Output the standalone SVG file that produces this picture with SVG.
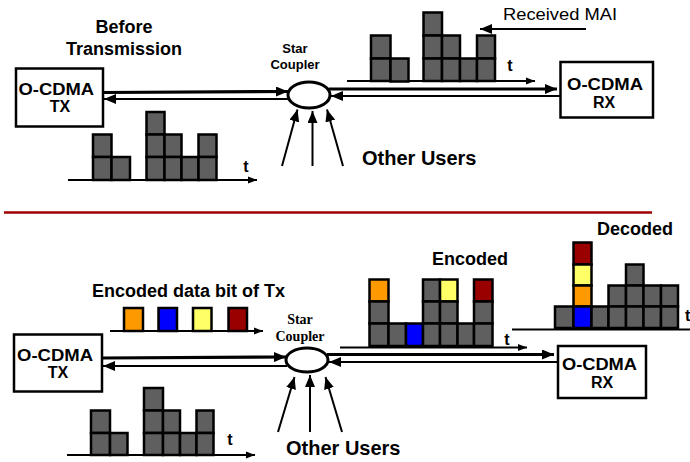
<svg xmlns="http://www.w3.org/2000/svg" width="690" height="462" viewBox="0 0 690 462">
<style>
text{font-family:"Liberation Sans",Arial,sans-serif;fill:#000}
.b{font-weight:bold}
.lbl{font-size:18px;font-weight:bold}
.bx{font-size:16px;font-weight:bold}
.box{fill:#fff;stroke:#000;stroke-width:2.5}
.cell{stroke:#000;stroke-width:2.5}
.g{fill:#5f5f5f}
.or{fill:#ff9900}
.bl{fill:#0000ff}
.ye{fill:#ffff66}
.rd{fill:#990000}
.ax{stroke:#000;stroke-width:2.2;fill:none}
.thick{stroke:#000;stroke-width:3.2;fill:none}
.thin{stroke:#000;stroke-width:2;fill:none}
.cp{fill:#fff;stroke:#000;stroke-width:3}
.serif{font-family:"Liberation Serif","Times New Roman",serif;font-weight:bold;font-size:14px}
</style>
<defs>
<marker id="ah" markerUnits="userSpaceOnUse" markerWidth="13" markerHeight="10" refX="12" refY="5" orient="auto"><path d="M0,0 L12,5 L0,10 Z" fill="#000"/></marker>
<marker id="as" markerUnits="userSpaceOnUse" markerWidth="10" markerHeight="8" refX="9" refY="4" orient="auto"><path d="M0,0.5 L9,4 L0,7.5 Z" fill="#000"/></marker>
</defs>

<!-- top section -->
<text class="lbl" x="124" y="33" text-anchor="middle">Before</text>
<text class="lbl" x="124" y="55" text-anchor="middle">Transmission</text>

<g id="tx-top">
<rect class="box" x="16" y="68.5" width="87" height="58"/>
<text class="bx" x="18.5" y="95" textLength="75.5" lengthAdjust="spacingAndGlyphs">O-CDMA</text>
<text class="bx" x="60" y="112" text-anchor="middle">TX</text>
</g>

<g id="coupler-top">
<ellipse class="cp" cx="309" cy="95" rx="21" ry="13"/>
<text class="b" x="295" y="52.5" font-size="13" text-anchor="middle">Star</text>
<text class="b" x="295" y="68.5" font-size="13" text-anchor="middle">Coupler</text>
</g>

<g id="rx-top">
<rect class="box" x="560.5" y="62" width="92.5" height="55.5"/>
<text class="bx" x="567" y="90" textLength="76" lengthAdjust="spacingAndGlyphs">O-CDMA</text>
<text class="bx" x="604" y="108" text-anchor="middle">RX</text>
</g>

<g id="chart-top-left">
<line class="ax" x1="68" y1="180" x2="257" y2="180" marker-end="url(#as)"/>
<rect class="cell g" x="93" y="134.5" width="18.5" height="22.5"/>
<rect class="cell g" x="93" y="157" width="18.5" height="23"/>
<rect class="cell g" x="111.5" y="157" width="18.5" height="23"/>
<rect class="cell g" x="146.5" y="112" width="18" height="22.5"/>
<rect class="cell g" x="146.5" y="134.5" width="18" height="22.5"/>
<rect class="cell g" x="146.5" y="157" width="18" height="23"/>
<rect class="cell g" x="164.5" y="134.5" width="17" height="22.5"/>
<rect class="cell g" x="164.5" y="157" width="17" height="23"/>
<rect class="cell g" x="181.5" y="157" width="17" height="23"/>
<rect class="cell g" x="198.5" y="134.5" width="18" height="22.5"/>
<rect class="cell g" x="198.5" y="157" width="18" height="23"/>
<text class="b" x="246" y="172" font-size="16" text-anchor="middle">t</text>
</g>

<g id="chart-top-right">
<line class="ax" x1="347" y1="81" x2="535" y2="81" marker-end="url(#as)"/>
<rect class="cell g" x="371" y="35.5" width="19.5" height="23"/>
<rect class="cell g" x="371" y="58.5" width="19.5" height="22.5"/>
<rect class="cell g" x="390.5" y="58.5" width="18" height="23"/>
<rect class="cell g" x="423.5" y="12.5" width="18.5" height="23"/>
<rect class="cell g" x="423.5" y="35.5" width="18.5" height="23"/>
<rect class="cell g" x="423.5" y="58.5" width="18.5" height="22.5"/>
<rect class="cell g" x="442" y="35.5" width="18" height="23"/>
<rect class="cell g" x="442" y="58.5" width="18" height="22.5"/>
<rect class="cell g" x="460" y="58.5" width="17" height="22.5"/>
<rect class="cell g" x="477" y="35.5" width="18" height="23"/>
<rect class="cell g" x="477" y="58.5" width="18" height="22.5"/>
<text class="b" x="510" y="71" font-size="16" text-anchor="middle">t</text>
</g>

<text x="503" y="20" font-size="17" textLength="114" lengthAdjust="spacingAndGlyphs">Received MAI</text>

<text class="b" x="362" y="165" font-size="20">Other Users</text>

<!-- separator -->
<line x1="4" y1="212.5" x2="652" y2="212.5" stroke="#a00000" stroke-width="2.5"/>

<!-- bottom section -->
<text class="lbl" x="92" y="297">Encoded data bit of Tx</text>
<text class="lbl" x="432" y="265">Encoded</text>
<text class="lbl" x="597" y="235">Decoded</text>

<g id="tx-bottom">
<rect class="box" x="14" y="334.5" width="88" height="57"/>
<text class="bx" x="17" y="361" textLength="76" lengthAdjust="spacingAndGlyphs">O-CDMA</text>
<text class="bx" x="58" y="378" text-anchor="middle">TX</text>
</g>

<g id="coupler-bottom">
<ellipse class="cp" cx="307" cy="360" rx="21" ry="12"/>
<text class="serif" x="300" y="323.5" text-anchor="middle">Star</text>
<text class="serif" x="300" y="341" text-anchor="middle">Coupler</text>
</g>

<g id="rx-bottom">
<rect class="box" x="558" y="346" width="88" height="52"/>
<text class="bx" x="562" y="370" textLength="75" lengthAdjust="spacingAndGlyphs">O-CDMA</text>
<text class="bx" x="602" y="388" text-anchor="middle">RX</text>
</g>

<g id="chart-code">
<line class="ax" x1="110" y1="331" x2="263" y2="331" marker-end="url(#as)"/>
<rect class="cell or" x="124" y="308" width="19" height="23"/>
<rect class="cell bl" x="158.5" y="308" width="18.5" height="23"/>
<rect class="cell ye" x="193" y="308" width="18.5" height="23"/>
<rect class="cell rd" x="228.5" y="308" width="18.5" height="23"/>
</g>

<g id="chart-bottom-left">
<line class="ax" x1="67" y1="455" x2="255" y2="455" marker-end="url(#as)"/>
<rect class="cell g" x="91" y="410.5" width="19" height="22.5"/>
<rect class="cell g" x="91" y="433" width="19" height="22"/>
<rect class="cell g" x="110" y="433" width="17.5" height="22"/>
<rect class="cell g" x="144" y="388" width="19" height="22.5"/>
<rect class="cell g" x="144" y="410.5" width="19" height="22.5"/>
<rect class="cell g" x="144" y="433" width="19" height="22"/>
<rect class="cell g" x="163" y="410.5" width="17" height="22.5"/>
<rect class="cell g" x="163" y="433" width="17" height="22"/>
<rect class="cell g" x="180" y="433" width="16.5" height="22"/>
<rect class="cell g" x="196.5" y="410.5" width="17" height="22.5"/>
<rect class="cell g" x="196.5" y="433" width="17" height="22"/>
<text class="b" x="230" y="445" font-size="16" text-anchor="middle">t</text>
</g>

<g id="chart-encoded">
<line class="ax" x1="340" y1="347.5" x2="527" y2="347.5" marker-end="url(#as)"/>
<rect class="cell or" x="369.5" y="279.5" width="19" height="22"/>
<rect class="cell g" x="369.5" y="301.5" width="19" height="22"/>
<rect class="cell g" x="369.5" y="323.5" width="19" height="22.5"/>
<rect class="cell g" x="388.5" y="323.5" width="17.5" height="22.5"/>
<rect class="cell bl" x="406" y="323.5" width="17" height="22.5"/>
<rect class="cell g" x="423" y="279.5" width="17" height="22"/>
<rect class="cell g" x="423" y="301.5" width="17" height="22"/>
<rect class="cell g" x="423" y="323.5" width="17" height="22.5"/>
<rect class="cell ye" x="440" y="279.5" width="17.5" height="22"/>
<rect class="cell g" x="440" y="301.5" width="17.5" height="22"/>
<rect class="cell g" x="440" y="323.5" width="17.5" height="22.5"/>
<rect class="cell g" x="457.5" y="323.5" width="16.5" height="22.5"/>
<rect class="cell rd" x="474" y="279.5" width="18.5" height="22"/>
<rect class="cell g" x="474" y="301.5" width="18.5" height="22"/>
<rect class="cell g" x="474" y="323.5" width="18.5" height="22.5"/>
<text class="b" x="507" y="345" font-size="16" text-anchor="middle">t</text>
</g>

<g id="chart-decoded">
<line class="ax" x1="512" y1="329.5" x2="690" y2="329.5"/>
<rect class="cell g" x="555" y="306.5" width="18.5" height="21.5"/>
<rect class="cell rd" x="573.5" y="242.5" width="18" height="22"/>
<rect class="cell ye" x="573.5" y="264.5" width="18" height="21"/>
<rect class="cell or" x="573.5" y="285.5" width="18" height="21"/>
<rect class="cell bl" x="573.5" y="306.5" width="18" height="21.5"/>
<rect class="cell g" x="591.5" y="306.5" width="17" height="21.5"/>
<rect class="cell g" x="608.5" y="285.5" width="17.5" height="21"/>
<rect class="cell g" x="608.5" y="306.5" width="17.5" height="21.5"/>
<rect class="cell g" x="626" y="264.5" width="17.5" height="21"/>
<rect class="cell g" x="626" y="285.5" width="17.5" height="21"/>
<rect class="cell g" x="626" y="306.5" width="17.5" height="21.5"/>
<rect class="cell g" x="643.5" y="285.5" width="17.5" height="21"/>
<rect class="cell g" x="643.5" y="306.5" width="17.5" height="21.5"/>
<rect class="cell g" x="661" y="285.5" width="17" height="21"/>
<rect class="cell g" x="661" y="306.5" width="17" height="21.5"/>
<text class="b" x="685" y="321" font-size="16">t</text>
</g>

<text class="b" x="286" y="455" font-size="20">Other Users</text>

<g id="connectors">
<!-- top -->
<line class="thick" x1="103" y1="92.5" x2="288" y2="91.5" marker-end="url(#ah)"/>
<line class="thin" x1="289" y1="99" x2="104" y2="99" marker-end="url(#ah)"/>
<line class="thick" x1="329" y1="89" x2="557" y2="89" marker-end="url(#ah)"/>
<line class="thin" x1="560" y1="96" x2="331" y2="96" marker-end="url(#ah)"/>
<line class="thin" x1="282" y1="166" x2="297.5" y2="109.5" marker-end="url(#ah)" stroke-width="2.5"/>
<line class="thin" x1="312.5" y1="166" x2="312.5" y2="111" marker-end="url(#ah)" stroke-width="2.5"/>
<line class="thin" x1="343" y1="166" x2="327" y2="109.5" marker-end="url(#ah)" stroke-width="2.5"/>
<line class="thin" x1="586" y1="29" x2="480" y2="29" marker-end="url(#ah)" stroke-width="2.5"/>
<!-- bottom -->
<line class="thick" x1="102" y1="358" x2="286" y2="357" marker-end="url(#ah)"/>
<line class="thin" x1="287" y1="366" x2="103" y2="366" marker-end="url(#ah)"/>
<line class="thick" x1="327" y1="354.5" x2="554" y2="354.5" marker-end="url(#ah)"/>
<line class="thin" x1="558" y1="362" x2="329" y2="362" marker-end="url(#ah)"/>
<line class="thin" x1="278" y1="432" x2="294.5" y2="377" marker-end="url(#ah)" stroke-width="2.5"/>
<line class="thin" x1="310" y1="432" x2="310" y2="375" marker-end="url(#ah)" stroke-width="2.5"/>
<line class="thin" x1="342" y1="432" x2="325.5" y2="377" marker-end="url(#ah)" stroke-width="2.5"/>
</g>
</svg>
